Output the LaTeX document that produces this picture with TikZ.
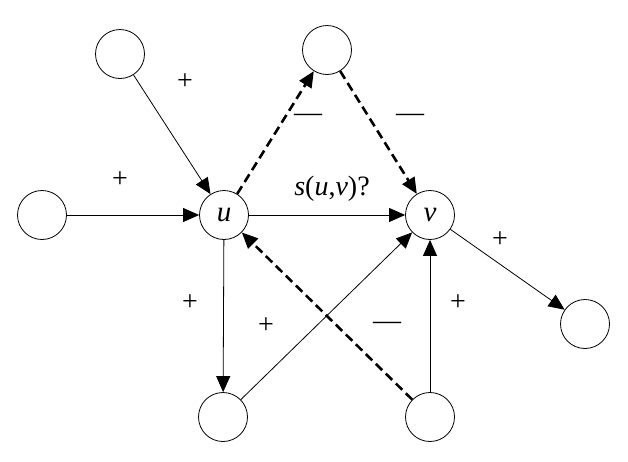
\documentclass[tikz,border=0pt]{standalone}
\usepackage{fontspec}
\setmainfont{Liberation Serif}
\usetikzlibrary{arrows.meta}
\begin{document}
\begin{tikzpicture}[x=1pt,y=-1pt,
  vert/.style={draw,circle,minimum size=49pt,inner sep=0pt,line width=0.8pt,font=\fontsize{29}{32}\selectfont\itshape},
  posedge/.style={-{Triangle[length=16pt,width=14pt]},line width=0.8pt},
  negedge/.style={-{Triangle[length=16pt,width=14pt]},line width=2.6pt,dash pattern=on 9pt off 5pt},
  lab/.style={font=\fontsize{28}{32}\selectfont}]
\useasboundingbox (0,0) rectangle (628,461);
\node[vert] (tl) at (120,54) {};
\node[vert] (tm) at (327,50) {};
\node[vert] (l) at (42,215) {};
\node[vert] (u) at (224,215) {u};
\node[vert] (v) at (430,215) {v};
\node[vert] (bl) at (223,417) {};
\node[vert] (br) at (430,417) {};
\node[vert] (r) at (585,324) {};
\draw[posedge] (tl) -- (u);
\draw[posedge] (l) -- (u);
\draw[negedge] (u) -- (tm);
\draw[negedge] (tm) -- (v);
\draw[posedge] (u) -- (v);
\draw[posedge] (v) -- (r);
\draw[posedge] (u) -- (bl);
\draw[posedge] (bl) -- (v);
\draw[negedge] (br) -- (u);
\draw[posedge] (br) -- (v);
\node[lab] (l1) at (185,82) {+};
\node[lab] (l2) at (120,180) {+};
\node[lab] (l3) at (308,118) {—};
\node[lab] (l4) at (410,118) {—};
\node[lab] (l5) at (332,189) {\textit{s}(\textit{u},\textit{v})?};
\node[lab] (l6) at (500,240) {+};
\node[lab] (l7) at (190,303) {+};
\node[lab] (l8) at (266,326) {+};
\node[lab] (l9) at (387,326) {—};
\node[lab] (l10) at (458,303) {+};
\end{tikzpicture}
\end{document}
